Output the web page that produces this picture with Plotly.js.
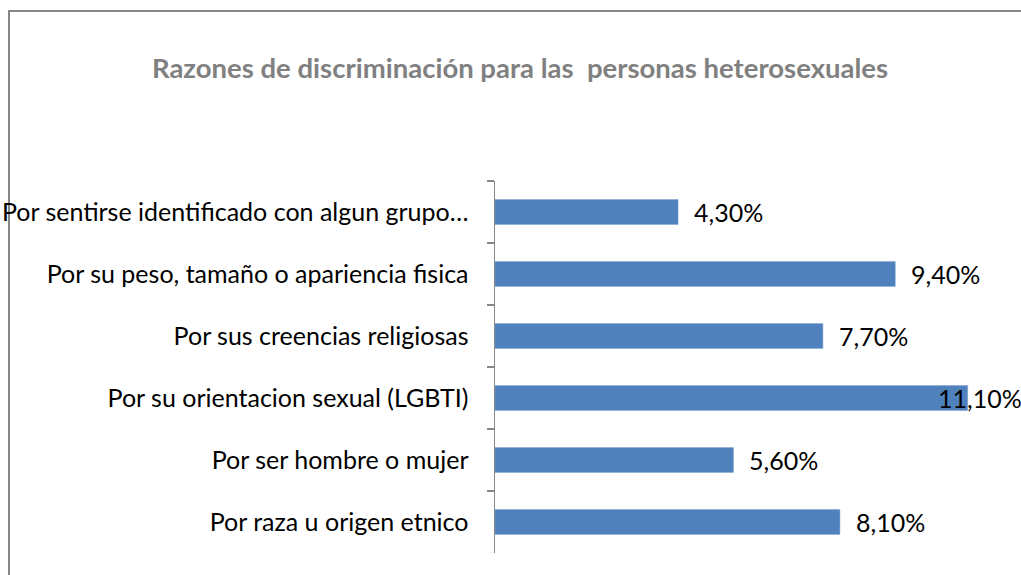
<!DOCTYPE html>
<html>
<head>
<meta charset="utf-8">
<script src="https://cdn.plot.ly/plotly-3.0.1.min.js"></script>
<style>html,body{margin:0;padding:0;background:#fff;}#chart{width:1021px;height:575px;}</style>
</head>
<body>
<div id="chart"></div>
<script>
const categories = [
  "Por sentirse identificado con algun grupo…",
  "Por su peso, tamaño o apariencia fisica",
  "Por sus creencias religiosas",
  "Por su orientacion sexual (LGBTI)",
  "Por ser hombre o mujer",
  "Por raza u origen etnico"
];
const values = [4.3, 9.4, 7.7, 11.1, 5.6, 8.1];
const labels = ["4,30%", "9,40%", "7,70%", "11,10%", "5,60%", "8,10%"];

const W = 1021, H = 575;
const mL = 495, mR = 15, mT = 181, mB = 22;
const xMax = 12;
const plotW = W - mL - mR, plotH = H - mT - mB;
const pxPer = plotW / xMax;
const FONT = "Lato, sans-serif";

const annotations = values.map((v, i) => {
  const left = mL + v * pxPer + 14;
  const labelW = 84;
  const shift = Math.min(14, 14 - (left + labelW - (W - 1)));
  return {
    x: v, y: categories[i], xref: 'x', yref: 'y',
    text: labels[i], showarrow: false, xanchor: 'left', xshift: shift,
    font: {family: FONT, size: 25, color: '#000'}
  };
});

const data = [{
  type: 'bar', orientation: 'h',
  x: values, y: categories,
  marker: {color: '#4f81bd', line: {color: '#7fa2d0', width: 0.5}},
  hoverinfo: 'none'
}];

const layout = {
  width: W, height: H,
  margin: {l: mL, r: mR, t: mT, b: mB, pad: 0},
  paper_bgcolor: '#fff', plot_bgcolor: '#fff',
  showlegend: false,
  bargap: 0.6,
  title: {
    text: "Razones de discriminación para las  personas heterosexuales",
    x: 520 / W, xanchor: 'center', y: 1 - 68 / H, yanchor: 'middle',
    font: {family: FONT, size: 27.5, color: '#808080', weight: 'bold'}
  },
  xaxis: {range: [0, xMax], visible: false, fixedrange: true},
  yaxis: {
    autorange: 'reversed', type: 'category',
    showline: true, linecolor: '#868686', linewidth: 1.5,
    ticks: 'outside', ticklen: 7, tickcolor: '#868686', tickwidth: 1.5,
    tickson: 'boundaries', ticklabelstandoff: 20,
    showgrid: false, zeroline: false,
    tickfont: {family: FONT, size: 25, color: '#000'},
    fixedrange: true
  },
  annotations: annotations,
  shapes: [{
    type: 'rect', xref: 'paper', yref: 'paper',
    x0: (9 - mL) / plotW, x1: 2, y0: -1, y1: (H - mB - 11) / plotH,
    line: {color: '#868686', width: 2}, fillcolor: 'rgba(0,0,0,0)', layer: 'below'
  }]
};

Plotly.newPlot('chart', data, layout, {displayModeBar: false, staticPlot: true});
</script>
</body>
</html>
